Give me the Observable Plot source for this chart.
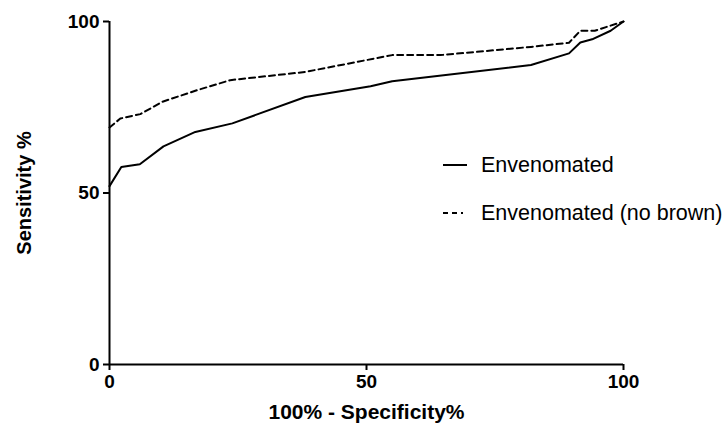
<!DOCTYPE html>
<html>
<head>
<meta charset="utf-8">
<script src="https://cdn.jsdelivr.net/npm/d3@7"></script>
<script src="https://cdn.jsdelivr.net/npm/@observablehq/plot@0.6"></script>
<style>
  body { margin: 0; background: #fff; }
  #wrap { position: relative; width: 724px; height: 427px; font-family: "Liberation Sans", Arial, sans-serif; }
  #legend { position: absolute; left: 441px; top: 141px; font-size: 21.5px; color: #000; white-space: nowrap; }
  .item { display: flex; align-items: center; height: 48px; }
  .item svg { width: 28px; height: 10px; margin-right: 12px; }
</style>
</head>
<body>
<div id="wrap"><div id="legend"></div></div>
<script>
// Envenomated
const fprA = [0, 2.3, 5.9, 10.5, 16.7, 23.9, 38.1, 50.8, 55, 82, 89.4, 91.6, 93.9, 97.5, 100];
const tprA = [52, 57.6, 58.4, 63.6, 67.8, 70.3, 78.0, 81.1, 82.6, 87.3, 90.7, 93.9, 94.8, 97.3, 100];
// Envenomated (no brown)
const fprB = [0, 2.1, 6, 10.3, 17.1, 23.5, 38.1, 55, 64.4, 82, 89.4, 91.6, 94.4, 100];
const tprB = [69.1, 71.7, 73, 76.6, 80, 82.9, 85.3, 90.2, 90.2, 92.6, 93.8, 97.3, 97.3, 100];
const seriesNames = ["Envenomated", "Envenomated (no brown)"];
const xTicks = [0, 50, 100];
const yTicks = [0, 50, 100];
const xLabel = "100% - Specificity%";
const yLabel = "Sensitivity %";

const dataA = fprA.map((x, i) => ({x, y: tprA[i]}));
const dataB = fprB.map((x, i) => ({x, y: tprB[i]}));

const chart = Plot.plot({
  width: 724,
  height: 427,
  marginLeft: 109,
  marginRight: 101,
  marginTop: 21,
  marginBottom: 63,
  style: {fontFamily: "Liberation Sans, Arial, sans-serif", background: "#fff", color: "#000"},
  x: {domain: [0, 100]},
  y: {domain: [0, 100]},
  marks: [
    Plot.axisX({ticks: xTicks, tickSize: 6, tickPadding: 4, strokeWidth: 2, fontSize: 19, fontWeight: "bold", label: null}),
    Plot.axisY({ticks: yTicks, tickSize: 6, tickPadding: 4, strokeWidth: 2, fontSize: 19, fontWeight: "bold", label: null}),
    Plot.ruleX([0], {stroke: "#000", strokeWidth: 2}),
    Plot.ruleY([0], {stroke: "#000", strokeWidth: 2}),
    Plot.line(dataB, {x: "x", y: "y", stroke: "#000", strokeWidth: 2, strokeDasharray: "6,4"}),
    Plot.line(dataA, {x: "x", y: "y", stroke: "#000", strokeWidth: 2}),
    Plot.text([xLabel], {frameAnchor: "bottom", textAnchor: "middle", lineAnchor: "middle", dy: 48, fontSize: 21, fontWeight: "bold", fill: "#000"}),
    Plot.text([yLabel], {frameAnchor: "left", textAnchor: "middle", lineAnchor: "middle", dx: -85, rotate: -90, fontSize: 20, fontWeight: "bold", fill: "#000"})
  ]
});
document.getElementById("wrap").prepend(chart);

const legend = document.getElementById("legend");
const dashes = [null, "5,4,5,4,2,10"];
seriesNames.forEach((name, i) => {
  const div = document.createElement("div");
  div.className = "item";
  div.innerHTML = `<svg viewBox="0 0 28 10"><line x1="2" y1="5" x2="26" y2="5" stroke="#000" stroke-width="2" ${dashes[i] ? `stroke-dasharray="${dashes[i]}"` : ""}/></svg><span>${name}</span>`;
  legend.appendChild(div);
});
</script>
</body>
</html>
